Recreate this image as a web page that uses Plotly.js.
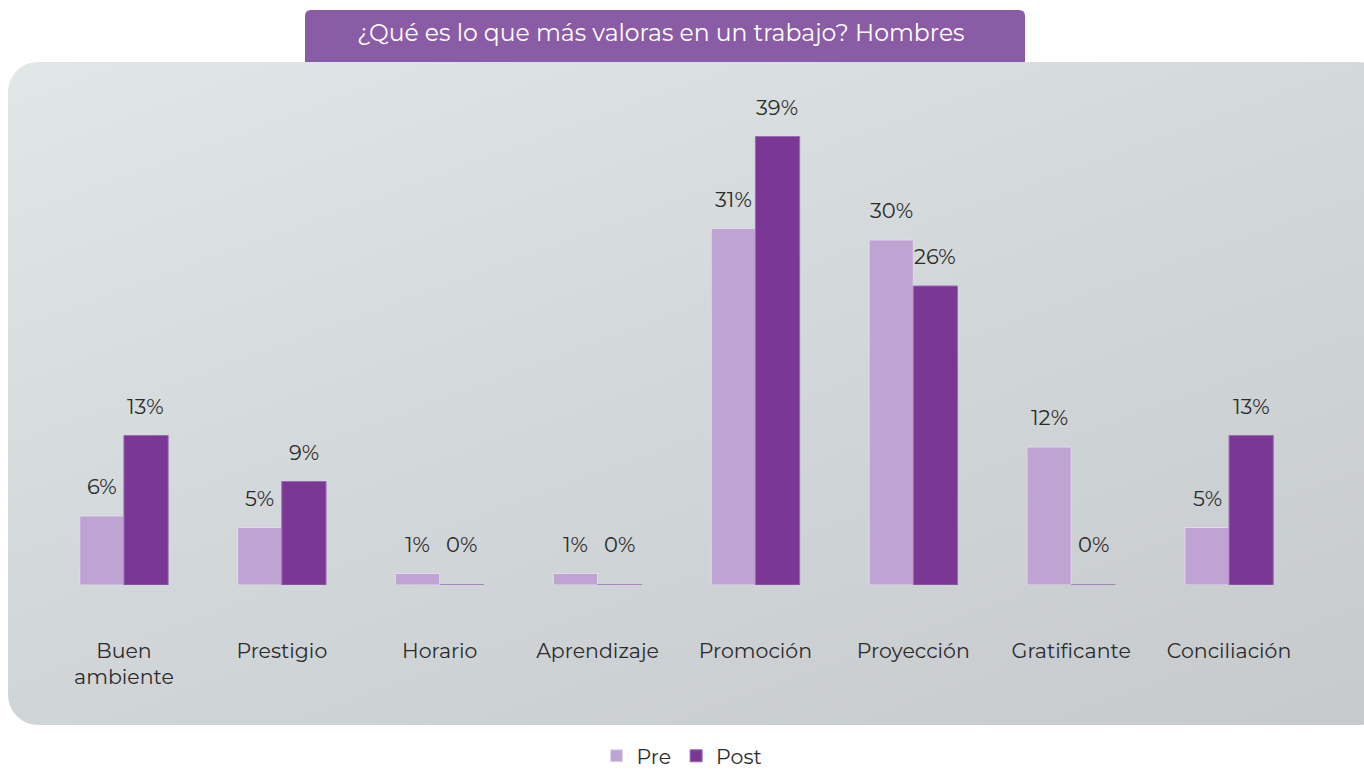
<!DOCTYPE html>
<html>
<head>
<meta charset="utf-8">
<script src="https://cdn.plot.ly/plotly-3.0.1.min.js"></script>
<style>
  html, body { margin: 0; padding: 0; background: #ffffff; }
  #wrap { position: relative; width: 1364px; height: 776px; overflow: hidden; }
  #panel { position: absolute; left: 8px; top: 62px; width: 1380px; height: 663px;
           border-radius: 30px;
           background: linear-gradient(160deg, #e1e6e6 0%, #d3d8da 45%, #c6cacd 100%); }
  #chart { position: absolute; left: 0; top: 0; width: 1364px; height: 776px; }
</style>
</head>
<body>
<div id="wrap">
  <div id="panel"></div>
  <div id="chart"></div>
</div>
<script>
const categories = ["Buen<br>ambiente", "Prestigio", "Horario", "Aprendizaje", "Promoción", "Proyección", "Gratificante", "Conciliación"];
const preValues  = [6, 5, 1, 1, 31, 30, 12, 5];
const postValues = [13, 9, 0, 0, 39, 26, 0, 13];
const seriesNames = ["Pre", "Post"];
const titleText = "¿Qué es lo que más valoras en un trabajo? Hombres";

const FONT = "Montserrat, 'Open Sans', 'Noto Sans', sans-serif";
const pct = v => v + "%";

const traces = [
  {
    type: "bar", name: seriesNames[0], x: categories, y: preValues,
    marker: {color: "#bfa3d3", line: {color: "#e4d8f0", width: 1}},
    hoverinfo: "x+y"
  },
  {
    type: "bar", name: seriesNames[1], x: categories, y: postValues,
    marker: {color: "#7b3794", line: {color: "#9a6ab3", width: 1}},
    hoverinfo: "x+y"
  }
];

// value labels, placed through the data axes
const labelAnnotations = [];
[preValues, postValues].forEach((vals, s) => {
  vals.forEach((v, i) => {
    labelAnnotations.push({
      x: categories[i], y: v, xref: "x", yref: "y",
      xshift: s === 0 ? -22 : 22, yshift: v === 0 ? 26 : 15,
      yanchor: "bottom", xanchor: "center", showarrow: false,
      text: pct(v), font: {family: FONT, size: 21, color: "#2b2b2b"}
    });
  });
});

const layout = {
  width: 1364, height: 776,
  paper_bgcolor: "rgba(0,0,0,0)",
  plot_bgcolor: "rgba(0,0,0,0)",
  margin: {l: 45, r: 56, t: 102, b: 191},
  barmode: "group",
  bargap: 0.44,
  bargroupgap: 0,
  font: {family: FONT, color: "#2b2b2b"},
  title: {
    text: titleText,
    font: {family: FONT, size: 23.5, color: "#ffffff"},
    x: 0.4875, xref: "paper", xanchor: "center",
    y: 1 - 33/776, yref: "container", yanchor: "middle"
  },
  xaxis: {
    type: "category", autorange: false, range: [-0.5, categories.length - 0.5],
    showgrid: false, zeroline: false, showline: false, automargin: false,
    ticks: "", ticklabelstandoff: 51, tickangle: 0,
    tickfont: {family: FONT, size: 20.5, color: "#2b2b2b"}
  },
  yaxis: {
    autorange: false, range: [0, 42], visible: false, showgrid: false, zeroline: false, fixedrange: true
  },
  showlegend: true,
  legend: {
    orientation: "h", x: 0.5, xanchor: "center", xref: "container",
    y: 0, yref: "container", yanchor: "bottom",
    font: {family: FONT, size: 20.5, color: "#2b2b2b"},
    itemwidth: 30, traceorder: "normal", bgcolor: "rgba(0,0,0,0)"
  },
  annotations: labelAnnotations,
  shapes: [
    {
      type: "path", xref: "paper", yref: "paper", layer: "below",
      path: (function(){
        const pw = 1364 - 45 - 56, ph = 776 - 102 - 191;
        const px = x => (x - 45) / pw;
        const py = y => (776 - 191 - y) / ph;
        const r = 6, x0 = 305, x1 = 1025, y0 = 10, y1 = 62;
        return "M " + px(x0) + "," + py(y1) +
               " L " + px(x0) + "," + py(y0 + r) +
               " Q " + px(x0) + "," + py(y0) + " " + px(x0 + r) + "," + py(y0) +
               " L " + px(x1 - r) + "," + py(y0) +
               " Q " + px(x1) + "," + py(y0) + " " + px(x1) + "," + py(y0 + r) +
               " L " + px(x1) + "," + py(y1) + " Z";
      })(),
      fillcolor: "#8b5ca6", line: {width: 0}
    }
  ]
};

Plotly.newPlot("chart", traces, layout, {displayModeBar: false, responsive: false});
</script>
</body>
</html>
